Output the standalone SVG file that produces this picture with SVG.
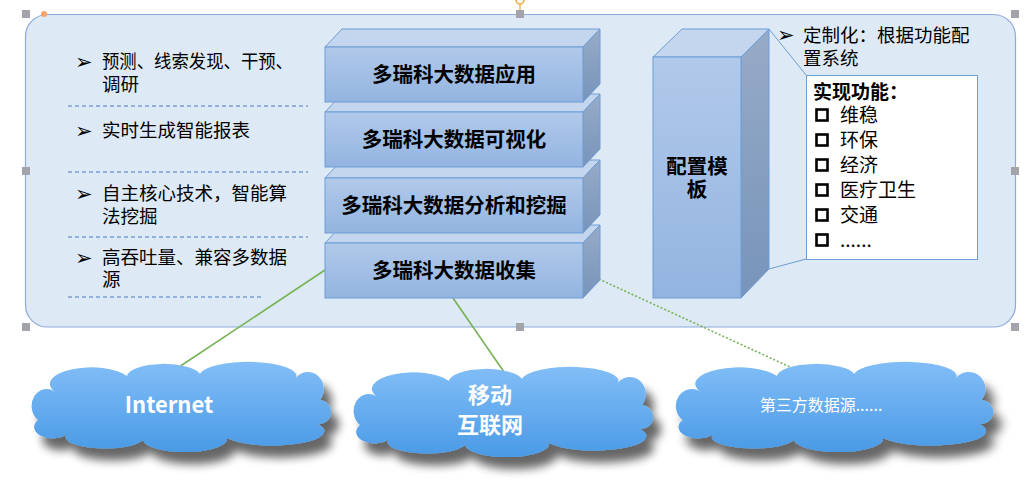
<svg xmlns="http://www.w3.org/2000/svg" width="1026" height="481" viewBox="0 0 1026 481">
<defs>
<linearGradient id="gFront" x1="0" y1="0" x2="0" y2="1"><stop offset="0" stop-color="#b1c9ea"/><stop offset="1" stop-color="#93b4e0"/></linearGradient>
<linearGradient id="gSide" x1="0" y1="0" x2="0" y2="1"><stop offset="0" stop-color="#97abc7"/><stop offset="1" stop-color="#7794ba"/></linearGradient>
<linearGradient id="gCloud" x1="0" y1="0" x2="0" y2="1"><stop offset="0" stop-color="#82bef7"/><stop offset="1" stop-color="#4a9ae6"/></linearGradient>
<filter id="shadow" x="-10%" y="-15%" width="130%" height="160%">
<feGaussianBlur in="SourceAlpha" stdDeviation="5"/>
<feOffset dx="8" dy="12" result="b"/>
<feComponentTransfer><feFuncA type="linear" slope="0.6"/></feComponentTransfer>
<feMerge><feMergeNode/><feMergeNode in="SourceGraphic"/></feMerge>
</filter>
<path id="cloud" d="M 10,58 A 14,16 0 0 1 27,30 A 37,15 0 0 1 99,14 A 37,13 0 0 1 172,12 A 48,14 0 0 1 268,16 A 12,13 0 0 1 292,38 A 12,12 0 0 1 290,62 A 46,13 0 0 1 199,76 A 42,13 0 0 1 115,78 A 38,11 0 0 1 39,72 A 16,10 0 0 1 10,58 Z"/>
</defs>
<style>
.face{fill:url(#gFront);stroke:#6f9dd6;stroke-width:1}
.top{fill:#c3d6ee;stroke:#6f9dd6;stroke-width:1}
.side{fill:url(#gSide);stroke:#6f9dd6;stroke-width:1}
.blk{font-family:"Noto Sans CJK SC","Noto Sans",sans-serif;font-weight:bold;font-size:20.5px;fill:#000;text-anchor:middle}
.t{font-family:"Noto Sans CJK SC","Noto Sans",sans-serif;font-size:18.5px;fill:#000}
.it{font-family:"Noto Sans CJK SC","Noto Sans",sans-serif;font-size:19px;fill:#000}
.bul{font-family:"DejaVu Sans",sans-serif;font-size:21px;fill:#000}
.dash{stroke:#4a76c6;stroke-width:1;stroke-dasharray:4,3;fill:none}
.conn{stroke:#77b255;stroke-width:1.6;fill:none}
.ct{font-family:"Noto Sans CJK SC","Noto Sans",sans-serif;font-weight:bold;fill:#fff;text-anchor:middle}
.ctn{font-family:"Noto Sans CJK SC","Noto Sans",sans-serif;font-weight:normal;font-size:16px;fill:#fff;text-anchor:middle}
.h{fill:#a2a3ab}
.chk{fill:none;stroke:#000;stroke-width:2.6}
</style>

<g id="panel">
<rect x="25.5" y="14.5" width="990" height="312.5" rx="22" fill="#dde9f5" stroke="#8eaadb" stroke-width="1.2"/>
</g>

<g id="left-notes">
<text class="bul" x="75" y="69">➢</text>
<text class="t" x="102" y="68" textLength="191" lengthAdjust="spacingAndGlyphs">预测、线索发现、干预、</text>
<text class="t" x="102" y="91">调研</text>
<line class="dash" x1="68" y1="106" x2="308" y2="106"/>
<text class="bul" x="75" y="138">➢</text>
<text class="t" x="102" y="137">实时生成智能报表</text>
<line class="dash" x1="68" y1="172" x2="308" y2="172"/>
<text class="bul" x="75" y="201">➢</text>
<text class="t" x="102" y="200">自主核心技术，智能算</text>
<text class="t" x="102" y="223">法挖掘</text>
<line class="dash" x1="68" y1="237" x2="308" y2="237"/>
<text class="bul" x="75" y="265">➢</text>
<text class="t" x="102" y="264">高吞吐量、兼容多数据</text>
<text class="t" x="102" y="286">源</text>
<line class="dash" x1="68" y1="297" x2="261" y2="297"/>
</g>

<g id="connectors">
<line class="conn" x1="325" y1="270" x2="179" y2="367"/>
<line class="conn" x1="453" y1="298" x2="504" y2="372"/>
<line class="conn" x1="577" y1="269" x2="790" y2="367" stroke-dasharray="2,2"/>
</g>

<g id="block-collect">
<polygon class="top" points="325,243 342,225 600,225 583,243"/>
<polygon class="side" points="583,243 600,225 600,280 583,298"/>
<rect class="face" x="325" y="243" width="258" height="55"/>
<text class="blk" x="454" y="278">多瑞科大数据收集</text>
</g>
<g id="block-analysis">
<polygon class="top" points="325,178 342,160 600,160 583,178"/>
<polygon class="side" points="583,178 600,160 600,215 583,233"/>
<rect class="face" x="325" y="178" width="258" height="55"/>
<text class="blk" x="454" y="213">多瑞科大数据分析和挖掘</text>
</g>
<g id="block-visual">
<polygon class="top" points="325,112 342,94 600,94 583,112"/>
<polygon class="side" points="583,112 600,94 600,149 583,167"/>
<rect class="face" x="325" y="112" width="258" height="55"/>
<text class="blk" x="454" y="147">多瑞科大数据可视化</text>
</g>
<g id="block-app">
<polygon class="top" points="325,47 342,29 600,29 583,47"/>
<polygon class="side" points="583,47 600,29 600,84 583,102"/>
<rect class="face" x="325" y="47" width="258" height="55"/>
<text class="blk" x="454" y="82">多瑞科大数据应用</text>
</g>

<g id="config-module">
<polygon class="top" points="653,57 682,29 769,29 741,57"/>
<polygon class="side" points="741,57 769,29 769,269 741,298"/>
<rect class="face" x="653" y="57" width="88" height="241"/>
<text class="blk" x="697" y="174" font-size="20">配置模</text>
<text class="blk" x="697" y="197" font-size="20">板</text>
</g>

<g id="config-callout">
<line x1="769" y1="29" x2="806" y2="75" stroke="#6f9dd6" stroke-width="1"/>
<line x1="769" y1="269" x2="806" y2="259" stroke="#6f9dd6" stroke-width="1"/>
<text class="bul" x="777" y="42">➢</text>
<text class="t" x="803" y="42">定制化：根据功能配</text>
<text class="t" x="803" y="65">置系统</text>
<rect x="806.5" y="75.5" width="171" height="184" fill="#fff" stroke="#6f9dd6" stroke-width="1"/>
<text class="it" x="813" y="99" font-weight="bold">实现功能：</text>
<rect class="chk" x="816.5" y="109.5" width="11" height="11"/>
<text class="it" x="840" y="122">维稳</text>
<rect class="chk" x="816.5" y="134.5" width="11" height="11"/>
<text class="it" x="840" y="147">环保</text>
<rect class="chk" x="816.5" y="159.5" width="11" height="11"/>
<text class="it" x="840" y="172">经济</text>
<rect class="chk" x="816.5" y="184.5" width="11" height="11"/>
<text class="it" x="840" y="197">医疗卫生</text>
<rect class="chk" x="816.5" y="209.5" width="11" height="11"/>
<text class="it" x="840" y="222">交通</text>
<rect class="chk" x="816.5" y="234.5" width="11" height="11"/>
<text class="it" x="840" y="247">......</text>
</g>

<g id="cloud-internet">
<use href="#cloud" transform="translate(28,362)" fill="url(#gCloud)" filter="url(#shadow)"/>
<text class="ct" x="169" y="413" font-size="22px">Internet</text>
</g>
<g id="cloud-mobile">
<use href="#cloud" transform="translate(350,367)" fill="url(#gCloud)" filter="url(#shadow)"/>
<text class="ct" x="490" y="403" font-size="22px">移动</text>
<text class="ct" x="490" y="433" font-size="22px">互联网</text>
</g>
<g id="cloud-third">
<use href="#cloud" transform="translate(672,362) scale(1.06,1)" fill="url(#gCloud)" filter="url(#shadow)"/>
<text class="ctn" x="821" y="411">第三方数据源......</text>
</g>

<g id="handles">
<rect class="h" x="22" y="10" width="8" height="8"/>
<rect class="h" x="516" y="10" width="8" height="8"/>
<rect class="h" x="1011" y="10" width="8" height="8"/>
<rect class="h" x="22" y="167" width="8" height="8"/>
<rect class="h" x="1011" y="167" width="8" height="8"/>
<rect class="h" x="22" y="323" width="8" height="8"/>
<rect class="h" x="516" y="323" width="8" height="8"/>
<rect class="h" x="1011" y="323" width="8" height="8"/>
<circle cx="44" cy="14" r="3" fill="#f5a46a"/>
<line x1="520" y1="10" x2="520" y2="4" stroke="#f0a030" stroke-width="1.2"/>
<circle cx="520" cy="0" r="4" fill="none" stroke="#f0a030" stroke-width="1.5"/>
</g>
</svg>
